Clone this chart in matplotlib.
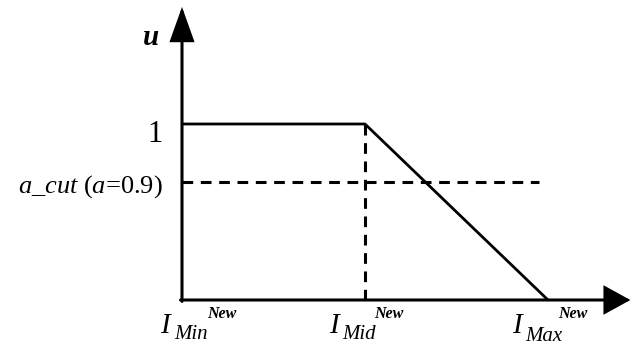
import matplotlib
matplotlib.use("Agg")
import matplotlib.pyplot as plt

plt.rcParams['font.family'] = ['Liberation Serif', 'DejaVu Serif']
plt.rcParams['mathtext.fontset'] = 'custom'
plt.rcParams['mathtext.rm'] = 'Liberation Serif'
plt.rcParams['mathtext.it'] = 'Liberation Serif:italic'

# ---- data ----
x_points = [0.0, 1.0, 2.0]          # I_Min, I_Mid, I_Max (schematic positions)
u_points = [1.0, 1.0, 0.0]          # membership values
cut_level = 0.67                     # drawn height of the a-cut line
cut_end = 1.95
tick_positions = [0.0, 1.0, 2.0]
tick_subs = ['Min', 'Mid', 'Max']
tick_sup = 'New'
y_label = 'u'
one_label = '1'
cut_label = r'$a\_cut$ ($a$=0.9)'

# ---- layout ----
W, H = 631, 345
fig = plt.figure(figsize=(W / 100, H / 100), dpi=100)
ax = fig.add_axes([0, 0, 1, 1])
ax.set_xlim(-182 / 183, (W - 182) / 183)
ax.set_ylim(-(H - 300) / 176, 300 / 176)
ax.axis('off')

PX = 0.72  # points per pixel


def piece(x, y, s, dx, dy, size, style='italic', weight='normal', ha='left'):
    ax.annotate(s, xy=(x, y), xytext=(dx * PX, -dy * PX), textcoords='offset points',
                ha=ha, va='baseline', fontsize=size, fontstyle=style,
                fontweight=weight, color='black', annotation_clip=False)


# axes with arrows
y_tip = 1.665
x_tip = 2.45
ax.annotate('', xy=(0, y_tip), xytext=(0, -0.008),
            arrowprops=dict(arrowstyle='-|>,head_length=21,head_width=7.5',
                            mutation_scale=1, lw=2.2, color='black',
                            shrinkA=0, shrinkB=0, joinstyle='miter'))
ax.annotate('', xy=(x_tip, 0), xytext=(-0.008, 0),
            arrowprops=dict(arrowstyle='-|>,head_length=16,head_width=8.8',
                            mutation_scale=1, lw=2.2, color='black',
                            shrinkA=0, shrinkB=0, joinstyle='miter'))

# membership function
ax.plot(x_points, u_points, color='black', lw=2.0, solid_capstyle='butt')

# dashed guides
ax.plot([x_points[1], x_points[1]], [0, u_points[1]], color='black', lw=2.2,
        linestyle=(0, (3.5, 2.5)), dash_capstyle='butt')
ax.plot([0, cut_end], [cut_level, cut_level], color='black', lw=2.2,
        linestyle=(0, (3.5, 2.5)), dash_capstyle='butt')

# y labels
piece(0, y_tip, y_label, -23, 38, 21, style='italic', weight='bold', ha='right')
piece(0, 1.0, one_label, -19, 18, 22, style='normal', ha='right')
piece(0, cut_level, cut_label, -19, 10, 19, style='normal', ha='right')

# x labels
I_dx = [-22, -36, -36]
sub_dx = [-8, -23, -23]
sup_dx = [25, 9, 10]
sub_dy = [39, 39, 41]
for xp, sub, idx, sdx, pdx, sdy in zip(tick_positions, tick_subs, I_dx, sub_dx, sup_dx, sub_dy):
    piece(xp, 0, 'I', idx, 33, 21)
    piece(xp, 0, sub, sdx, sdy, 15)
    piece(xp, 0, tick_sup, pdx, 18, 11.5, weight='bold')

fig.savefig('out.png', dpi=100)
